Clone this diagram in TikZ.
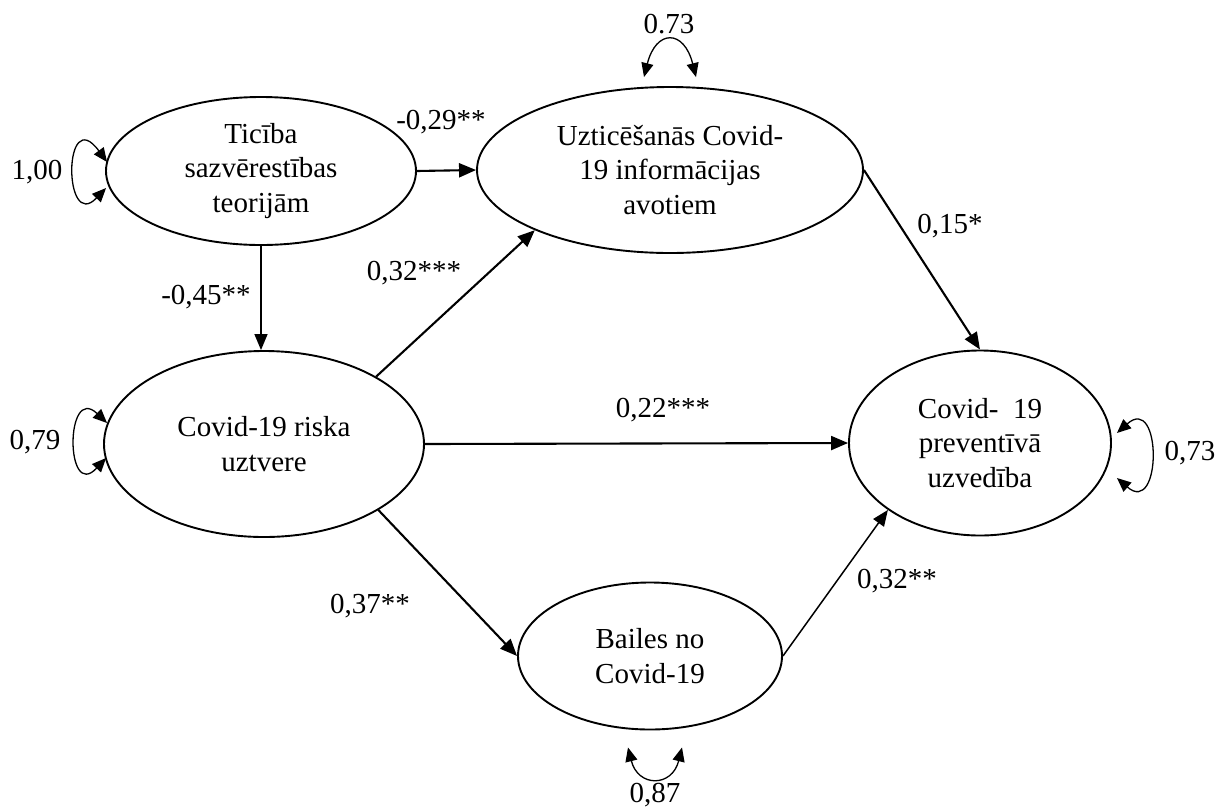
\documentclass[tikz,border=0pt]{standalone}
\usepackage{fontspec}
\setmainfont{Liberation Serif}
\usetikzlibrary{arrows.meta,shapes.geometric}
\begin{document}
\begin{tikzpicture}[x=1pt,y=-1pt,
  latent/.style={draw, line width=1.9pt, ellipse, inner sep=0pt, align=center,
    font=\fontsize{29}{34.5}\selectfont},
  path/.style={line width=2.1pt, -{Triangle[length=17pt,width=14pt]}},
  thinpath/.style={line width=1.5pt, -{Triangle[length=16pt,width=13pt]}},
  resid/.style={line width=1.3pt, {Triangle[length=14pt,width=12pt]}-{Triangle[length=14pt,width=12pt]}},
  coef/.style={font=\fontsize{29}{34}\selectfont, inner sep=0pt}]
\useasboundingbox (0,0) rectangle (1218,807);
\fill[white] (0,0) rectangle (1218,807);

\node[latent, minimum width=310pt, minimum height=148pt] (t) at (261,171)
  {\fontsize{29}{27}\selectfont Ticība\\sazvērestības\\teorijām};
\node[latent, minimum width=386pt, minimum height=166pt] (u) at (670,170)
  {Uzticēšanās Covid-\\19 informācijas\\avotiem};
\node[latent, minimum width=320pt, minimum height=186pt] (r) at (264,444)
  {Covid-19 riska\\uztvere};
\node[latent, minimum width=262pt, minimum height=185pt] (p) at (980,443)
  {Covid-\ \ 19\\preventīvā\\uzvedība};
\node[latent, minimum width=264pt, minimum height=147pt] (b) at (650,656)
  {Bailes no\\Covid-19};

% structural paths
\draw[path] (t.east) -- (u.west);
\draw[thinpath] (t.south) -- (t.south |- r.north);
\draw[path] (r.31) -- (u.204);
\draw[path] (r.east) -- (p.west);
\draw[path] (r.-30) -- (b.west);
\draw[thinpath] (b.east) -- (p.216);
\draw[path] (u.east) -- (p.north);

% coefficients
\node[coef] (c1) at (441,122) {-0,29**};
\node[coef] (c2) at (206,297) {-0,45**};
\node[coef] (c3) at (414,273) {0,32***};
\node[coef] (c4) at (950,226) {0,15*};
\node[coef] (c5) at (663,410) {0,22***};
\node[coef] (c6) at (370,606) {0,37**};
\node[coef] (c7) at (897,581) {0,32**};

% residual loops
\draw[resid] ([shift={(2,-9)}]t.west) .. controls +(-44,-60) and +(-43,45) .. ([shift={(1,17)}]t.west);
\draw[resid] ([shift={(4,-21)}]r.west) .. controls +(-42,-40) and +(-41,44) .. ([shift={(3,14)}]r.west);
\draw[resid] ([shift={(5,-10)}]p.east) .. controls +(45,-40) and +(45,39) .. ([shift={(5,35)}]p.east);
\draw[resid] ([shift={(-26,-9)}]u.north) .. controls +(12,-48) and +(-12,-48) .. ([shift={(26,-9)}]u.north);
\draw[resid] ([shift={(-22,17)}]b.south) .. controls +(10,40) and +(-10,40) .. ([shift={(32,17)}]b.south);

\node[coef] (v1) at (37,172) {1,00};
\node[coef] (v2) at (35,442) {0,79};
\node[coef] (v3) at (1190,453) {0,73};
\node[coef] (v4) at (669,24) {0.73};
\node[coef] (v5) at (655,795) {0,87};
\end{tikzpicture}
\end{document}
